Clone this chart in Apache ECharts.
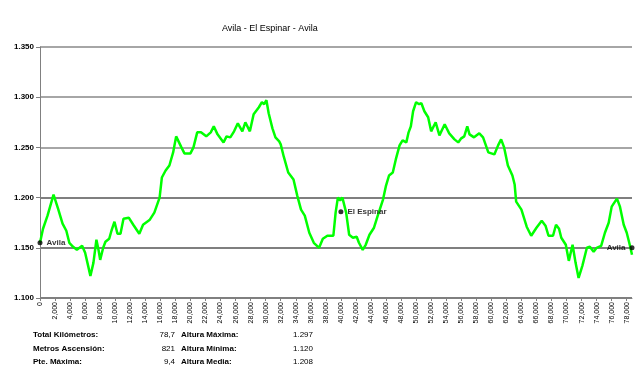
<!DOCTYPE html>
<html>
<head>
<meta charset="utf-8">
<script src="https://cdn.jsdelivr.net/npm/echarts@6/dist/echarts.min.js"></script>
<style>html,body{margin:0;padding:0;background:#fff}#c{width:640px;height:380px}</style>
</head>
<body>
<div id="c"></div>
<script>
// distance along route in km
var dist = [0.0,0.4,1.0,1.8,2.4,3.0,3.5,3.9,4.4,4.9,5.6,6.0,6.4,6.7,7.1,7.5,7.8,8.0,8.4,8.7,9.2,9.5,9.9,10.3,10.7,11.1,11.8,12.4,13.2,13.7,14.6,15.2,15.9,16.2,16.7,17.2,17.7,18.1,18.8,19.2,20.0,20.4,20.9,21.4,22.1,22.7,23.1,23.6,24.4,24.8,25.3,25.8,26.3,26.9,27.3,27.9,28.4,29.1,29.5,29.8,30.1,30.4,30.9,31.3,31.8,32.0,32.4,33.0,33.7,34.2,34.7,35.2,35.8,36.4,37.1,37.6,38.2,39.0,39.3,39.6,39.9,40.2,40.7,41.1,41.6,42.1,42.4,42.9,43.3,43.8,44.4,44.9,45.6,46.0,46.4,46.9,47.3,47.8,48.2,48.7,49.0,49.3,49.6,50.0,50.4,50.7,51.1,51.6,52.0,52.6,53.1,53.8,54.4,55.1,55.6,56.0,56.4,56.8,57.1,57.7,58.4,58.9,59.6,60.4,60.9,61.3,61.7,62.2,62.8,63.1,63.3,64.0,64.7,65.3,66.0,66.7,67.2,67.6,68.2,68.6,69.0,69.3,69.9,70.3,70.8,71.2,71.6,72.1,72.7,73.1,73.6,74.0,74.6,75.1,75.6,76.0,76.7,77.1,77.6,78.0,78.4,78.7];
// elevation in metres
var elev = [1155,1169,1182,1203,1189,1174,1167,1155,1151,1148,1152,1145,1132,1122,1135,1158,1147,1138,1150,1156,1159,1167,1176,1164,1164,1179,1180,1173,1164,1173,1178,1185,1200,1220,1227,1232,1245,1261,1250,1244,1244,1250,1265,1265,1261,1265,1271,1263,1255,1261,1260,1266,1274,1266,1275,1266,1283,1290,1295,1293,1297,1284,1269,1260,1256,1253,1241,1225,1218,1202,1188,1182,1165,1155,1150,1159,1162,1162,1185,1200,1197,1200,1185,1163,1160,1161,1155,1148,1153,1163,1170,1182,1198,1212,1222,1225,1238,1252,1257,1255,1265,1271,1286,1295,1293,1294,1286,1280,1266,1275,1262,1273,1264,1258,1255,1259,1261,1271,1263,1260,1264,1260,1245,1243,1252,1258,1250,1232,1222,1213,1196,1188,1171,1162,1170,1177,1172,1162,1162,1173,1169,1160,1153,1137,1153,1135,1120,1132,1150,1151,1146,1150,1152,1165,1175,1191,1199,1191,1173,1165,1153,1143];
// named waypoints
var placeNames = ['Avila','El Espinar','Avila'];
var placeKm = [0.0, 40.0, 78.7];
var placeElev = [1155, 1186, 1150];
var placeLabelPos = ['right','right','left'];
// summary table
var statLabelsL = ['Total Kilómetros:','Metros Ascensión:','Pte. Máxima:'];
var statValuesL = ['78,7','821','9,4'];
var statLabelsR = ['Altura Máxima:','Altura Mínima:','Altura Media:'];
var statValuesR = ['1.297','1.120','1.208'];

var chart = echarts.init(document.getElementById('c'), null, {renderer:'canvas'});
var FONT = 'Liberation Sans';
var line = dist.map(function(d,i){return [d, elev[i]];});
var pts = placeNames.map(function(n,i){
  return {value:[placeKm[i], placeElev[i]], name:n, label:{position:placeLabelPos[i]}};
});
var graphics = [];
var rowY = [331, 345, 358];
for (var i=0;i<3;i++){
  graphics.push({type:'text', left:33, top:rowY[i], style:{text:statLabelsL[i], font:'bold 8px '+FONT, fill:'#000'}});
  graphics.push({type:'text', right:640-175, top:rowY[i], style:{text:statValuesL[i], font:'8px '+FONT, fill:'#000', textAlign:'right'}});
  graphics.push({type:'text', left:181, top:rowY[i], style:{text:statLabelsR[i], font:'bold 8px '+FONT, fill:'#000'}});
  graphics.push({type:'text', right:640-313, top:rowY[i], style:{text:statValuesR[i], font:'8px '+FONT, fill:'#000', textAlign:'right'}});
}
function fmtThousand(v, sep){
  var s = String(Math.round(v));
  return s.replace(/\B(?=(\d{3})+(?!\d))/g, sep);
}
chart.setOption({
  animation:false,
  backgroundColor:'#fff',
  title:{text:'Avila - El Espinar - Avila', left:217, top:19,
    textStyle:{fontFamily:FONT, fontSize:9, fontWeight:'normal', color:'#000'}},
  grid:{left:40, right:8, top:47, bottom:82, containLabel:false},
  xAxis:{type:'value', min:0, max:78.7, interval:2,
    axisLine:{lineStyle:{color:'#808080', width:1}},
    axisTick:{show:true, length:3, lineStyle:{color:'#808080'}},
    splitLine:{show:false},
    axisLabel:{rotate:90, fontSize:7, fontFamily:FONT, color:'#000', margin:4,
      showMaxLabel:false,
      formatter:function(v){ if (Math.abs(v - Math.round(v/2)*2) > 1e-6) return ''; return v===0?'0':fmtThousand(v*1000, ','); }}
  },
  yAxis:{type:'value', min:1100, max:1350, interval:50,
    axisLine:{show:true, lineStyle:{color:'#808080', width:1}},
    axisTick:{show:true, length:4, lineStyle:{color:'#808080'}},
    splitLine:{show:true, lineStyle:{color:['#555','#555','#555','#888','#888','#888'], width:1.5}},
    axisLabel:{fontSize:8, fontWeight:'bold', fontFamily:FONT, color:'#000', margin:6,
      formatter:function(v){ return fmtThousand(v, '.'); }}
  },
  graphic: graphics,
  series:[
    {type:'line', data:line, showSymbol:false, symbol:'none',
      lineStyle:{color:'#00ff00', width:2.5}, z:3},
    {type:'scatter', data:pts, symbol:'circle', symbolSize:5,
      itemStyle:{color:'#000'}, z:4,
      label:{show:true, formatter:'{b}', fontSize:8, fontWeight:'bold', fontFamily:FONT, color:'#000', distance:4}}
  ]
});
</script>
</body>
</html>
